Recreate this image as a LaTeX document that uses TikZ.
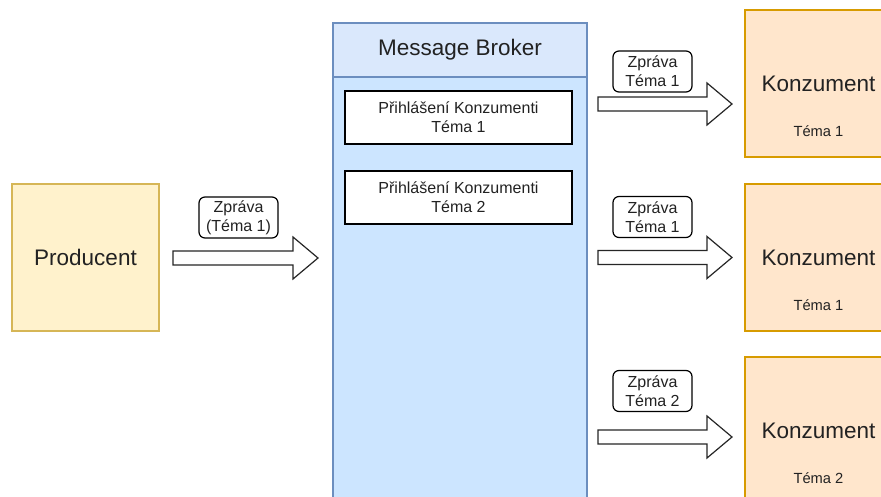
\documentclass[tikz,border=0pt]{standalone}
\usepackage{fontspec}
\setmainfont{Liberation Sans}
\definecolor{prodfill}{HTML}{FFF2CC}
\definecolor{prodline}{HTML}{D6B656}
\definecolor{consfill}{HTML}{FFE6CC}
\definecolor{consline}{HTML}{D79B00}
\definecolor{headfill}{HTML}{DAE8FC}
\definecolor{bodyfill}{HTML}{CCE5FF}
\definecolor{brokline}{HTML}{6C8EBF}
\definecolor{txt}{HTML}{222222}
\newcommand\blockarr[4]{% name, x1, x2, y
  \coordinate (#1) at ({(#2+#3)/2},#4);
  \draw[blockarrow] ({#2},{#4-7}) -- ({#3-25},{#4-7}) -- ({#3-25},{#4-21}) -- ({#3},{#4})
    -- ({#3-25},{#4+21}) -- ({#3-25},{#4+7}) -- ({#2},{#4+7}) -- cycle;}
\begin{document}
\begin{tikzpicture}[x=1pt,y=-1pt,
  every node/.style={text=txt, font=\fontsize{16}{19.2}\selectfont, inner sep=0pt, align=center},
  bigtext/.style={font=\fontsize{22.5}{27}\selectfont},
  prodbox/.style={draw=prodline, fill=prodfill, line width=1.2pt, minimum width=147pt, minimum height=147pt},
  consbox/.style={draw=consline, fill=consfill, line width=1.2pt, minimum width=147pt, minimum height=147pt},
  headbox/.style={draw=brokline, fill=headfill, line width=1.2pt, minimum width=254pt, minimum height=54pt},
  bodybox/.style={draw=brokline, fill=bodyfill, line width=1.2pt, minimum width=254pt, minimum height=423pt},
  subbox/.style={draw=black, fill=white, line width=1.2pt, minimum width=227pt, minimum height=53pt},
  msglabel/.style={draw=black, fill=white, line width=1.2pt, rounded corners=6pt, minimum width=79pt, minimum height=41pt},
  smalltext/.style={font=\fontsize{14.7}{17}\selectfont},
  blockarrow/.style={draw=black!85, fill=white, line width=1.2pt, line join=miter}
]
\clip (0,0) rectangle (881,497);
\fill[white] (0,0) rectangle (881,497);

% Producent
\node[prodbox, bigtext] (prod) at (85.5,257.5) {Producent};

% Broker
\node[bodybox] (body) at (460,288.5) {};
\node[headbox, bigtext] (head) at (460,50) {Message Broker};
\node[subbox] (sub1) at (458.5,117.5) {Přihlášení Konzumenti\\Téma 1};
\node[subbox] (sub2) at (458.5,197.5) {Přihlášení Konzumenti\\Téma 2};

% Consumers
\node[consbox, bigtext] (c1) at (818.5,83.5) {Konzument};
\node[smalltext] (t1) at ([yshift=-47.5pt]c1.center) {Téma 1};
\node[consbox, bigtext] (c2) at (818.5,257.5) {Konzument};
\node[smalltext] (t2) at ([yshift=-47.5pt]c2.center) {Téma 1};
\node[consbox, bigtext] (c3) at (818.5,430.5) {Konzument};
\node[smalltext] (t3) at ([yshift=-47.5pt]c3.center) {Téma 2};

% Arrows
\blockarr{a0}{173}{318}{258}
\blockarr{a1}{598}{732}{104}
\blockarr{a2}{598}{732}{257.5}
\blockarr{a3}{598}{732}{437}

% Labels
\node[msglabel] (l0) at (238.5,217.5) {Zpráva\\(Téma 1)};
\node[msglabel] (l1) at (652.5,71.5) {Zpráva\\Téma 1};
\node[msglabel] (l2) at (652.5,217) {Zpráva\\Téma 1};
\node[msglabel] (l3) at (652.5,391) {Zpráva\\Téma 2};
\end{tikzpicture}
\end{document}
